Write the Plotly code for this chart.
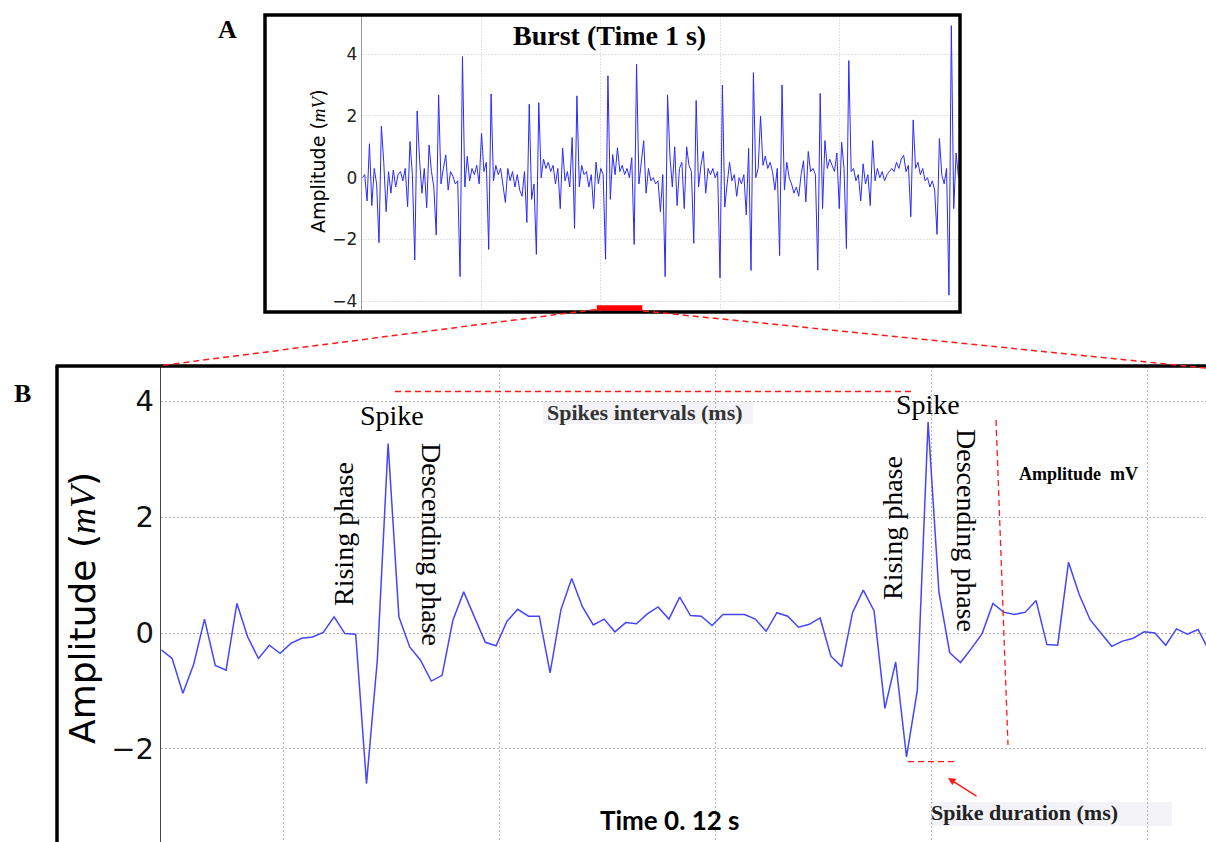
import numpy as np
import plotly.graph_objects as go

W, H = 1206, 842

# ---------------- Panel A: 1 s burst (sample step 4 ms) ----------------
dt_a = 0.004
burst_0 = [0.0, 0.1, -0.75, 1.1, -0.9, 0.3, -0.2, -2.1, 1.67, 0.5, -1.1, 0.2, -0.5, 0.25, -0.3,
           0.1, 0.2, -0.1, 0.3, -0.94, 1.17, 0.1, -2.66, 2.16, 0.6]
burst_1 = [-0.5, 0.3, -0.97, 1.06, 0.2, -0.3, -1.85, 2.68, -0.2, 0.3, 0.74, -0.4, 0.2, 0.05, -0.2,
           -0.1, -3.2, 3.92, -0.3, 0.69, -0.1, 0.3, 0.1, 0.4, -0.2]
burst_2 = [1.44, 0.2, 0.5, -2.32, 2.71, -0.1, 0.4, 0.1, 0.3, -0.2, -0.8, 0.3, -0.1, 0.2, -0.3,
           0.1, -0.4, -0.6, 0.2, -1.45, 2.38, -0.7, -0.2, -2.48, 2.43]
burst_3 = [0.0, 0.6, 0.3, 0.5, 0.2, 0.4, -0.2, 0.3, -1.0, 0.96, -0.1, 0.2, -0.3, 1.3, -1.64,
           2.65, -0.3, 0.4, 0.1, 0.2, -0.3, 0.1, -1.0, 0.5, -0.2]
burst_4 = [0.3, 0.1, -2.64, 3.3, -0.7, 0.75, 0.1, 0.97, 0.2, 0.4, 0.1, 0.3, 0.0, 0.65, -2.16,
           3.68, -0.2, 0.5, 1.2, -0.5, 0.3, -0.1, 0.0, -0.2, -0.1]
burst_5 = [-1.1, 0.1, -3.2, 2.68, 0.7, -0.3, 1.0, -0.9, 0.3, 0.5, -1.0, 1.0, 0.4, 0.2, -2.12,
           2.5, -0.3, 0.4, 0.85, -0.5, 0.3, 0.1, 0.3, 0.0, 0.2]
burst_6 = [-3.24, 3.0, -0.95, -0.2, 0.5, -0.1, 0.1, -0.6, 0.0, -0.2, 0.1, -1.2, 0.95, -3.0, 3.4,
           0.0, 0.3, 2.0, 0.4, 0.7, 0.3, 0.5, 0.2, -0.4, 0.3]
burst_7 = [-2.52, 3.0, -0.4, 0.5, 0.0, -0.2, -0.5, -0.3, -0.6, 0.1, 0.55, -0.78, 0.85, 0.2, 0.3,
           0.1, -2.99, 2.73, -1.0, 1.2, 0.3, 0.6, 0.4, 0.2, 0.8]
burst_8 = [-1.0, 1.15, 0.3, -2.29, 3.79, 0.2, 0.3, -0.1, 0.1, -0.75, 0.45, -0.2, 0.1, -0.9, 1.2,
           -0.1, 0.3, 0.0, 0.2, -0.1, 0.1, 0.2, 0.3, 0.2, 0.5]
burst_9 = [0.3, 0.6, 0.73, 0.2, 0.4, -1.26, 1.87, 0.3, 0.5, 0.1, 0.3, -0.1, 0.0, -0.3, -0.1,
           -0.4, -1.83, 1.27, 0.1, -0.2, 0.3, -3.8, 4.92, -1.0, 0.8, 0.0]
burst_values = (burst_0 + burst_1 + burst_2 + burst_3 + burst_4 +
                burst_5 + burst_6 + burst_7 + burst_8 + burst_9)
burst_time = [round(i * dt_a, 4) for i in range(len(burst_values))]

yticks_a = [-4, -2, 0, 2, 4]
yticklabels_a = ["\u22124", "\u22122", "0", "2", "4"]
xticks_a = [0.0, 0.2, 0.4, 0.6, 0.8, 1.0]

# ---------------- Panel B: zoom 0.12 s (sample index, ms) ----------------
zoom_values = [-0.29, -0.44, -1.04, -0.54, 0.24, -0.56, -0.64, 0.51, -0.07, -0.44,
               -0.21, -0.35, -0.18, -0.09, -0.07, 0.01, 0.28, -0.01, -0.02, -2.60,
               -0.47, 3.27, 0.28, -0.24, -0.47, -0.83, -0.73, 0.22, 0.71, 0.28,
               -0.16, -0.22, 0.20, 0.41, 0.29, 0.29, -0.69, 0.40, 0.94, 0.45,
               0.14, 0.24, 0.02, 0.18, 0.16, 0.33, 0.45, 0.24, 0.62, 0.30,
               0.29, 0.13, 0.32, 0.32, 0.32, 0.24, 0.03, 0.35, 0.29, 0.10,
               0.15, 0.26, -0.40, -0.58, 0.35, 0.74, 0.38, -1.30, -0.50, -2.14,
               -0.99, 3.64, 0.71, -0.34, -0.51, -0.27, -0.01, 0.51, 0.36, 0.32,
               0.36, 0.56, -0.20, -0.21, 1.22, 0.66, 0.23, 0.00, -0.23, -0.14,
               -0.09, 0.02, 0.00, -0.21, 0.07, -0.02, 0.06, -0.30]
zoom_index = list(range(len(zoom_values)))
yticks_b = [-2, 0, 2, 4]
yticklabels_b = ["\u22122", "0", "2", "4"]


def px(x):
    return x / W


def py(y):
    return 1 - y / H


fig = go.Figure()
fig.add_trace(go.Scatter(x=burst_time, y=burst_values, mode="lines",
                         line=dict(color="#2a2aff", width=1), xaxis="x", yaxis="y",
                         hoverinfo="skip", showlegend=False))
fig.add_trace(go.Scatter(x=zoom_index, y=zoom_values, mode="lines",
                         line=dict(color="#4545ff", width=1.5), xaxis="x2", yaxis="y2",
                         hoverinfo="skip", showlegend=False))

# pixel scales for panel B
b_x0, b_step = 161.3, 10.8
b_y0, b_scale = 633.0, 57.93

fig.update_layout(
    width=W, height=H, autosize=False,
    margin=dict(l=0, r=0, t=0, b=0, pad=0),
    paper_bgcolor="white", plot_bgcolor="white",
    showlegend=False,
    xaxis=dict(domain=[px(362.3), px(958.5)], range=[0, 1], tickvals=xticks_a,
               showticklabels=False, showgrid=True, gridcolor="#e2e2e2", griddash="2px,1px",
               gridwidth=1, zeroline=False, showline=False, ticks="", anchor="y"),
    yaxis=dict(domain=[py(310), py(16)], range=[-4.28, 5.233], tickvals=yticks_a,
               ticktext=yticklabels_a, tickfont=dict(family="DejaVu Sans", size=17, color="#222"),
               showgrid=True, gridcolor="#e2e2e2", griddash="2px,1px", gridwidth=1,
               zeroline=False, showline=True, linecolor="#9a9a9a", linewidth=1.5,
               ticks="", anchor="x"),
    xaxis2=dict(domain=[px(b_x0), 1], range=[0, (W - b_x0) / b_step],
                tick0=(283 - b_x0) / b_step, dtick=20, showticklabels=False,
                showgrid=True, gridcolor="#b4b4b4", griddash="2px,2px", gridwidth=1,
                zeroline=False, showline=False, ticks="", anchor="y2"),
    yaxis2=dict(domain=[0, py(366)], range=[-(H - b_y0) / b_scale, (b_y0 - 366) / b_scale],
                tickvals=yticks_b, ticktext=yticklabels_b,
                tickfont=dict(family="DejaVu Sans", size=29, color="#111"),
                showgrid=True, gridcolor="#b4b4b4", griddash="2px,2px", gridwidth=1,
                zeroline=False, showline=True, linecolor="#444", linewidth=1.5,
                ticks="", anchor="x2"),
)

red = "#ff1a1a"
dash = "6px,4px"
shapes = [
    # panel A frame
    dict(type="rect", xref="paper", yref="paper", x0=px(265), x1=px(960), y0=py(312), y1=py(15),
         line=dict(color="black", width=3.5)),
    # panel B frame (left and top)
    dict(type="line", xref="paper", yref="paper", x0=px(57), x1=px(57), y0=py(366), y1=py(850),
         line=dict(color="black", width=3.5)),
    dict(type="line", xref="paper", yref="paper", x0=px(55.5), x1=px(1215), y0=py(366), y1=py(366),
         line=dict(color="black", width=3.5)),
    # zoom window marker on panel A
    dict(type="rect", xref="paper", yref="paper", x0=px(596.7), x1=px(642.3), y0=py(310.7),
         y1=py(305.3), fillcolor="#ff0000", line=dict(width=0)),
    # connector lines
    dict(type="line", xref="paper", yref="paper", x0=px(596), y0=py(309.5), x1=px(161.3), y1=py(365.5),
         line=dict(color=red, width=1.5, dash=dash)),
    dict(type="line", xref="paper", yref="paper", x0=px(643), y0=py(311), x1=px(1206), y1=py(368),
         line=dict(color=red, width=1.5, dash=dash)),
    # spikes interval line
    dict(type="line", xref="paper", yref="paper", x0=px(395), y0=py(391.5), x1=px(913), y1=py(391.5),
         line=dict(color=red, width=1.3, dash=dash)),
    # amplitude line
    dict(type="line", xref="paper", yref="paper", x0=px(996), y0=py(420), x1=px(1008), y1=py(745),
         line=dict(color=red, width=1.3, dash=dash)),
    # spike duration line
    dict(type="line", xref="paper", yref="paper", x0=px(908), y0=py(761.7), x1=px(957), y1=py(761.7),
         line=dict(color=red, width=1.3, dash=dash)),
    # label backgrounds
    dict(type="rect", xref="paper", yref="paper", x0=px(543), x1=px(753), y0=py(424), y1=py(401.7),
         fillcolor="#f3f3f7", line=dict(width=0), layer="below"),
    dict(type="rect", xref="paper", yref="paper", x0=px(929), x1=px(1172), y0=py(826), y1=py(802),
         fillcolor="#f3f3f7", line=dict(width=0), layer="below"),
]
fig.update_layout(shapes=shapes)

serif = "Liberation Serif"
sans = "DejaVu Sans"


def ann(text, x, y, size, family=serif, angle=0, xanchor="center", color="black"):
    return dict(text=text, xref="paper", yref="paper", x=px(x), y=py(y), xanchor=xanchor,
                yanchor="middle", showarrow=False, textangle=angle,
                font=dict(family=family, size=size, color=color))


mv_a = "Amplitude (<span style='font-family:Liberation Serif'><i>mV</i></span>)"
annotations = [
    ann("<b>A</b>", 227.5, 29, 26),
    ann("<b>Burst (Time 1 s)</b>", 609, 35, 28),
    ann(mv_a, 318, 161, 19, family=sans, angle=-90),
    ann("<b>B</b>", 22.5, 393, 26),
    ann(mv_a, 82, 608, 36, family=sans, angle=-90),
    ann("Spike", 392, 415, 28),
    ann("Rising phase", 343, 534, 28, angle=-90),
    ann("Descending phase", 432, 544, 28, angle=90),
    ann("Spike", 928, 405, 28),
    ann("Rising phase", 892, 528, 28, angle=-90),
    ann("Descending phase", 967, 530, 28, angle=90),
    ann("<b>Spikes intervals (ms)</b>", 545, 412, 22, xanchor="left", color="#333"),
    ann("<b>Amplitude\u00a0 mV</b>", 1017, 474, 18, xanchor="left"),
    ann("<b>Spike duration (ms)</b>", 929, 812, 22, xanchor="left", color="#222"),
    ann("<b>Time 0. 12 s</b>", 670, 820, 26, family="Lato"),
    dict(text="", xref="paper", yref="paper", x=px(948), y=py(778), showarrow=True,
         axref="pixel", ayref="pixel", ax=30, ay=19, arrowhead=2, arrowsize=1,
         arrowwidth=1.5, arrowcolor=red),
]
fig.update_layout(annotations=annotations)

fig.write_html("out.html", config={"displayModeBar": False, "staticPlot": True},
               post_script="document.body.style.margin='0px';document.body.style.overflow='hidden';")
